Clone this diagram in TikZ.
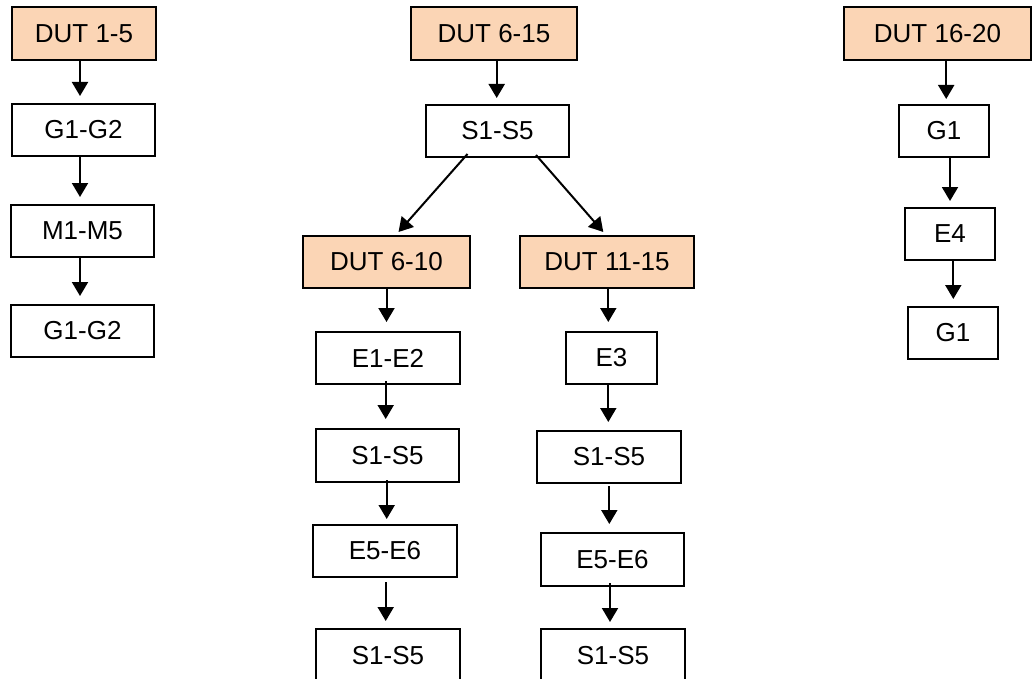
\documentclass[tikz,border=0pt]{standalone}
\usepackage{fontspec}
\setmainfont{Liberation Sans}
\usetikzlibrary{arrows.meta}
\definecolor{peach}{RGB}{251,213,181}
\tikzset{
  box/.style={draw=black, line width=2pt, inner sep=0pt, font=\fontsize{26}{30}\selectfont},
  dut/.style={box, fill=peach},
  arr/.style={line width=2pt, -{Triangle[width=16pt,length=14pt]}},
}
\begin{document}
\begin{tikzpicture}[x=1pt,y=-1pt]
\useasboundingbox (0,0) rectangle (1032,679);
\clip (0,0) rectangle (1032,679);
% left column
\node[dut, minimum width=144pt, minimum height=53pt] (d15) at (84,33.5) {DUT 1-5};
\node[box, minimum width=143pt, minimum height=52pt] (g12a) at (83.5,130) {G1-G2};
\node[box, minimum width=143pt, minimum height=52pt] (m15) at (82.5,231) {M1-M5};
\node[box, minimum width=143pt, minimum height=52pt] (g12b) at (82.5,331) {G1-G2};
% middle
\node[dut, minimum width=166pt, minimum height=53pt] (d615) at (494,33.5) {DUT 6-15};
\node[box, minimum width=143pt, minimum height=52pt] (s15a) at (497.5,131) {S1-S5};
\node[dut, minimum width=167pt, minimum height=52pt] (d610) at (386.5,262) {DUT 6-10};
\node[dut, minimum width=174pt, minimum height=52pt] (d1115) at (607,262) {DUT 11-15};
\node[box, minimum width=144pt, minimum height=52pt] (e12) at (388,358) {E1-E2};
\node[box, minimum width=91pt, minimum height=52pt] (e3) at (611.5,358) {E3};
\node[box, minimum width=143pt, minimum height=53pt] (s15b) at (387.5,455.5) {S1-S5};
\node[box, minimum width=144pt, minimum height=52pt] (s15c) at (609,457) {S1-S5};
\node[box, minimum width=144pt, minimum height=52pt] (e56a) at (385,551) {E5-E6};
\node[box, minimum width=143pt, minimum height=53pt] (e56b) at (612.5,559.5) {E5-E6};
\node[box, minimum width=144pt, minimum height=53pt] (s15d) at (388,655.5) {S1-S5};
\node[box, minimum width=144pt, minimum height=53pt] (s15e) at (613,655.5) {S1-S5};
% right column
\node[dut, minimum width=187pt, minimum height=53pt] (d1620) at (937.5,33.5) {DUT 16-20};
\node[box, minimum width=90pt, minimum height=52pt] (g1a) at (944,131) {G1};
\node[box, minimum width=90pt, minimum height=52pt] (e4) at (950,234) {E4};
\node[box, minimum width=90pt, minimum height=52pt] (g1b) at (953,333) {G1};
% arrows left
\draw[arr, shorten >=7pt] ([xshift=-4pt]d15.south) -- ([xshift=-4pt]d15.south |- g12a.north);
\draw[arr, shorten >=7pt] ([xshift=-3.5pt]g12a.south) -- ([xshift=-3.5pt]g12a.south |- m15.north);
\draw[arr, shorten >=8pt] ([xshift=-2.5pt]m15.south) -- ([xshift=-2.5pt]m15.south |- g12b.north);
% arrows middle
\draw[arr, shorten >=6pt] ([xshift=2.7pt]d615.south) -- ([xshift=2.7pt]d615.south |- s15a.north);
\draw[arr] ([xshift=-30pt,yshift=4pt]s15a.south) -- ([xshift=12pt,yshift=3pt]d610.north);
\draw[arr] ([xshift=38.5pt,yshift=3pt]s15a.south) -- ([xshift=-3.7pt,yshift=3pt]d1115.north);
\draw[arr, shorten >=9pt] (d610.south) -- (d610.south |- e12.north);
\draw[arr, shorten >=9pt] ([xshift=-2.3pt,yshift=4pt]e12.south) -- ([xshift=-2.3pt]e12.south |- s15b.north);
\draw[arr, shorten >=5pt] ([xshift=-0.8pt,yshift=3pt]s15b.south) -- ([xshift=-0.8pt]s15b.south |- e56a.north);
\draw[arr, shorten >=7pt] ([xshift=0.7pt,yshift=-4pt]e56a.south) -- ([xshift=0.7pt]e56a.south |- s15d.north);
\draw[arr, shorten >=9pt] ([xshift=1.3pt]d1115.south) -- ([xshift=1.3pt]d1115.south |- e3.north);
\draw[arr, shorten >=8pt] ([xshift=-3.2pt]e3.south) -- ([xshift=-3.2pt]e3.south |- s15c.north);
\draw[arr, shorten >=8pt] ([xshift=0.3pt,yshift=-2pt]s15c.south) -- ([xshift=0.3pt]s15c.south |- e56b.north);
\draw[arr, shorten >=6pt] ([xshift=-2.5pt,yshift=4pt]e56b.south) -- ([xshift=-2.5pt]e56b.south |- s15e.north);
% arrows right
\draw[arr, shorten >=5pt] ([xshift=8.7pt]d1620.south) -- ([xshift=8.7pt]d1620.south |- g1a.north);
\draw[arr, shorten >=6pt] ([xshift=6pt]g1a.south) -- ([xshift=6pt]g1a.south |- e4.north);
\draw[arr, shorten >=7pt] ([xshift=3.3pt]e4.south) -- ([xshift=3.3pt]e4.south |- g1b.north);
\end{tikzpicture}
\end{document}
